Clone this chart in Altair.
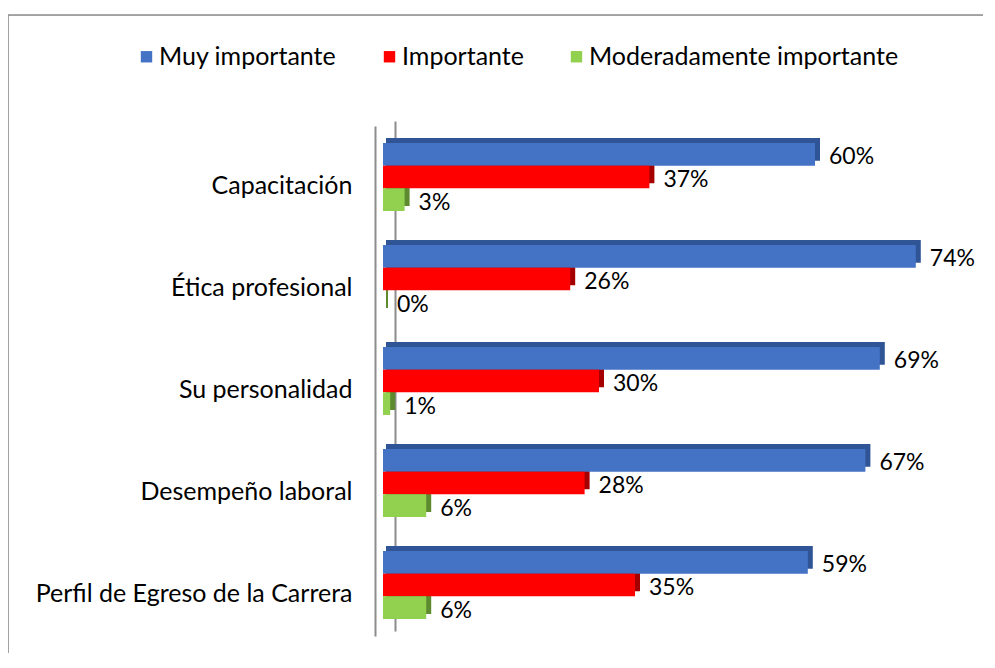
import altair as alt
import pandas as pd

categories = ["Capacitación", "Ética profesional", "Su personalidad",
              "Desempeño laboral", "Perfil de Egreso de la Carrera"]
series = ["Muy importante", "Importante", "Moderadamente importante"]
muy_importante = [60, 74, 69, 67, 59]
importante = [37, 26, 30, 28, 35]
moderadamente = [3, 0, 1, 6, 6]
colors = ["#4472C4", "#FF0000", "#92D050"]
dark_colors = ["#2F5597", "#A50000", "#5E8B2F"]

rows = []
for i, c in enumerate(categories):
    for s, vals, dk in zip(series, [muy_importante, importante, moderadamente], dark_colors):
        rows.append({"cat": c, "serie": s, "v": vals[i], "label": f"{vals[i]}%", "dark": dk})
df = pd.DataFrame(rows)

FONT = "Lato"
W, H = 975, 638
GRAY = "#8C8C8C"

base = alt.Chart(df)
xs = alt.Scale(domain=[0, 80], range=[375, 951], nice=False, zero=True)
yoff = alt.YOffset("serie:N", sort=series,
                   scale=alt.Scale(range=[0, 68], paddingInner=0, paddingOuter=0))

# depth (3D side/top faces)
depth = base.mark_bar(xOffset=5, x2Offset=3).encode(
    y=alt.Y("cat:N", sort=categories,
            scale=alt.Scale(range=[106, 616], paddingInner=1 / 3, paddingOuter=1 / 6),
            axis=alt.Axis(orient="left", offset=-387, labels=False, ticks=False,
                          domain=True, domainColor=GRAY, domainWidth=2, title=None, grid=False)),
    yOffset=yoff,
    x=alt.X("v:Q", scale=xs, axis=None),
    x2=alt.datum(0),
    fill=alt.Fill("dark:N", scale=None),
)

yfront = alt.Y("cat:N", sort=categories,
               scale=alt.Scale(range=[111, 621], paddingInner=1 / 3, paddingOuter=1 / 6),
               axis=alt.Axis(orient="left", offset=-367, ticks=False, tickSize=0,
                             domain=True, domainColor=GRAY, domainWidth=2, title=None,
                             grid=False, labelFont=FONT, labelFontSize=25, labelColor="black",
                             labelPadding=23, labelOffset=9, labelLimit=500))

front = base.mark_bar().encode(
    y=yfront,
    yOffset=yoff,
    x=alt.X("v:Q", scale=xs, axis=None),
    x2=alt.datum(0),
    color=alt.Color("serie:N", sort=series,
                    scale=alt.Scale(domain=series, range=colors),
                    legend=alt.Legend(orient="none", legendX=126, legendY=29,
                                      direction="horizontal", title=None,
                                      symbolType="square", symbolSize=130,
                                      symbolStrokeWidth=0, labelFontSize=25,
                                      labelFont=FONT, labelColor="black",
                                      columnPadding=40, labelOffset=0, padding=0,
                                      labelLimit=500)),
)

text = base.mark_text(align="left", baseline="middle", dx=14, dy=3,
                      fontSize=23, font=FONT, color="black").encode(
    y=yfront,
    yOffset=yoff,
    x=alt.X("v:Q", scale=xs, axis=None),
    text="label:N",
)

dummy = alt.Chart(pd.DataFrame({"a": [0]}))
frame_top = dummy.mark_rule(color=GRAY, strokeWidth=1.5).encode(
    x=alt.value(0), x2=alt.value(W), y=alt.value(0))
frame_left = dummy.mark_rule(color=GRAY, strokeWidth=1.5).encode(
    x=alt.value(0), y=alt.value(0), y2=alt.value(H))

chart = alt.layer(
    depth, alt.layer(front, text), frame_top, frame_left
).resolve_scale(y="independent").properties(
    width=W, height=H,
    autosize=alt.AutoSizeParams(type="none"),
    padding={"top": 7, "left": 0, "right": 0, "bottom": 0},
).configure_view(stroke=None).configure(background="white")

chart.save("out.html", embed_options={"renderer": "svg", "actions": False})
